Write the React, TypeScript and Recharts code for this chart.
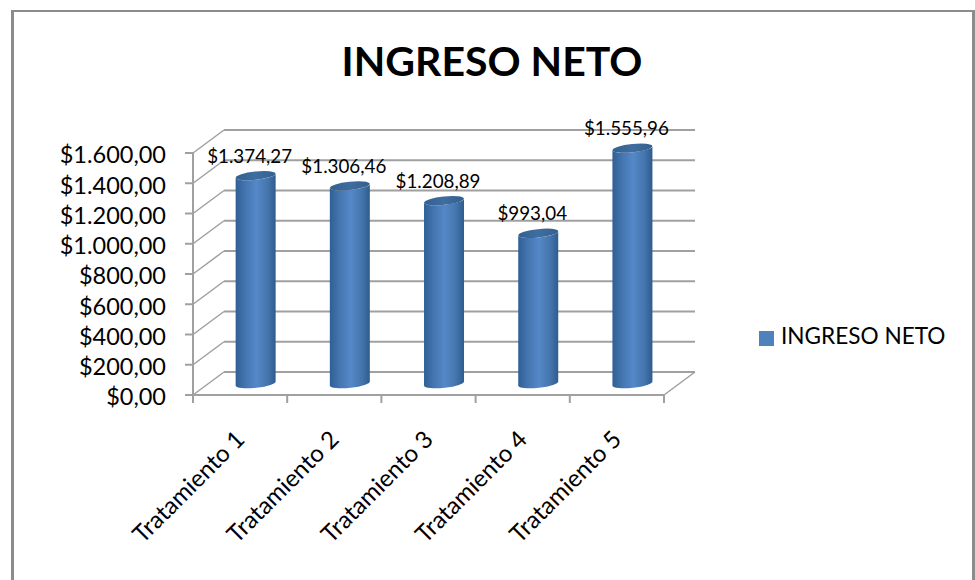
import { Bar, BarChart, CartesianGrid, LabelList, Legend, XAxis, YAxis } from "recharts"

const categories = ["Tratamiento 1", "Tratamiento 2", "Tratamiento 3", "Tratamiento 4", "Tratamiento 5"]
const ingresoNeto = [1374.27, 1306.46, 1208.89, 993.04, 1555.96]
const yTicks = [0, 200, 400, 600, 800, 1000, 1200, 1400, 1600]

const data = categories.map((name, i) => ({ name, value: ingresoNeto[i] }))

const FONT = "Lato, sans-serif"
const GREY = "#a0a0a0"
// 3D look: how far the back wall sits from the front axis
const DX = 31
const DY = -23

const money = (v: number) => {
  const [int, dec] = v.toFixed(2).split(".")
  return "$" + int.replace(/\B(?=(\d{3})+$)/g, ".") + "," + dec
}

function WallLine(props: any) {
  const { x1, x2, y1 } = props
  return (
    <g key={props.key}>
      <line x1={x1} y1={y1} x2={x1 + DX} y2={y1 + DY} stroke={GREY} strokeWidth={1.5} />
      <line x1={x1 + DX} y1={y1 + DY} x2={x2 + DX} y2={y1 + DY} stroke={GREY} strokeWidth={2} />
    </g>
  )
}

function XTick({ x, y, payload, index }: any) {
  const band = 94.2
  const left = x - band / 2
  return (
    <g>
      <line x1={left} y1={y - 8} x2={left} y2={y} stroke={GREY} strokeWidth={2} />
      {index === categories.length - 1 && (
        <>
          <line x1={left + band} y1={y - 8} x2={left + band} y2={y} stroke={GREY} strokeWidth={2} />
          <line x1={left + band} y1={y - 8} x2={left + band + DX} y2={y - 8 + DY} stroke={GREY} strokeWidth={1.5} />
        </>
      )}
      <text
        x={x + 6}
        y={y + 38}
        textAnchor="end"
        fontFamily={FONT}
        fontSize={24}
        fill="#000"
        transform={`rotate(-45 ${x + 6} ${y + 38})`}
      >
        {payload.value}
      </text>
    </g>
  )
}

function Cylinder({ x, y, width, height }: any) {
  const rx = width / 2
  const ry = 4.2
  const tilt = 2.2
  const left = x + DX / 2
  const right = left + width
  const top = y + DY / 2
  const bottom = top + height
  return (
    <g>
      <path
        d={`M${left},${top + tilt} L${left},${bottom + tilt} A${rx},${ry} -6 0 0 ${right},${bottom - tilt} L${right},${top - tilt} A${rx},${ry} -6 0 1 ${left},${top + tilt} Z`}
        fill="url(#cylSide)"
      />
      <ellipse
        cx={left + rx}
        cy={top}
        rx={rx}
        ry={ry}
        transform={`rotate(-6 ${left + rx} ${top})`}
        fill="url(#cylTop)"
      />
    </g>
  )
}

function ValueLabel({ x, y, width, value }: any) {
  return (
    <text
      x={x + width / 2 + DX / 2 - 6}
      y={y + DY / 2 - 13}
      textAnchor="middle"
      fontFamily={FONT}
      fontSize={18.8}
      fill="#000"
    >
      {money(value)}
    </text>
  )
}

export default function App() {
  return (
    <div style={{ position: "absolute", left: 0, top: 0, width: 975, height: 580, background: "#fff", overflow: "hidden" }}>
      <div
        style={{
          position: "absolute",
          left: 11,
          top: 10,
          width: 958,
          height: 570,
          borderLeft: "3px solid #8c8c8c",
          borderRight: "3px solid #8c8c8c",
          borderTop: "2px solid #8c8c8c",
        }}
      />
      <div
        style={{
          position: "absolute",
          left: 0,
          top: 36,
          width: 984,
          textAlign: "center",
          fontFamily: FONT,
          fontWeight: 700,
          fontSize: 41,
          lineHeight: "50px",
          color: "#000",
        }}
      >
        INGRESO NETO
      </div>
      <div style={{ position: "absolute", left: 0, top: 0 }}>
        <BarChart
          width={975}
          height={580}
          data={data}
          barCategoryGap="28.8%"
          margin={{ top: 153, right: 311, bottom: 85, left: 43 }}
        >
          <defs>
            <linearGradient id="cylSide" x1="0" y1="0" x2="1" y2="0">
              <stop offset="0%" stopColor="#2f5f94" />
              <stop offset="25%" stopColor="#4576b0" />
              <stop offset="52%" stopColor="#5488c8" />
              <stop offset="80%" stopColor="#4575ad" />
              <stop offset="100%" stopColor="#2f5c8c" />
            </linearGradient>
            <linearGradient id="cylTop" x1="0" y1="0" x2="1" y2="0">
              <stop offset="0%" stopColor="#32608f" />
              <stop offset="50%" stopColor="#3f6d9f" />
              <stop offset="100%" stopColor="#33608e" />
            </linearGradient>
          </defs>
          <CartesianGrid horizontal={WallLine as any} vertical={false} />
          <XAxis
            dataKey="name"
            height={100}
            interval={0}
            axisLine={{ stroke: GREY, strokeWidth: 2 }}
            tickLine={false}
            tick={<XTick />}
          />
          <YAxis
            width={150}
            domain={[0, 1600]}
            ticks={yTicks}
            interval={0}
            tickFormatter={money}
            tickSize={8}
            tickMargin={19}
            axisLine={{ stroke: GREY, strokeWidth: 2 }}
            tickLine={{ stroke: GREY, strokeWidth: 2 }}
            tick={{ fontFamily: FONT, fontSize: 23.5, fill: "#000", dy: 2 }}
          />
          <Legend
            layout="vertical"
            align="center"
            verticalAlign="middle"
            iconType="square"
            iconSize={15}
            wrapperStyle={{ left: 759, top: 322, width: 210, bottom: "auto", fontFamily: FONT, fontSize: 22.6 }}
            formatter={(v: string) => <span style={{ color: "#000", marginLeft: 3 }}>{v}</span>}
          />
          <Bar dataKey="value" name="INGRESO NETO" fill="#4f81bd" shape={<Cylinder />} isAnimationActive={false}>
            <LabelList dataKey="value" content={<ValueLabel />} />
          </Bar>
        </BarChart>
      </div>
    </div>
  )
}
